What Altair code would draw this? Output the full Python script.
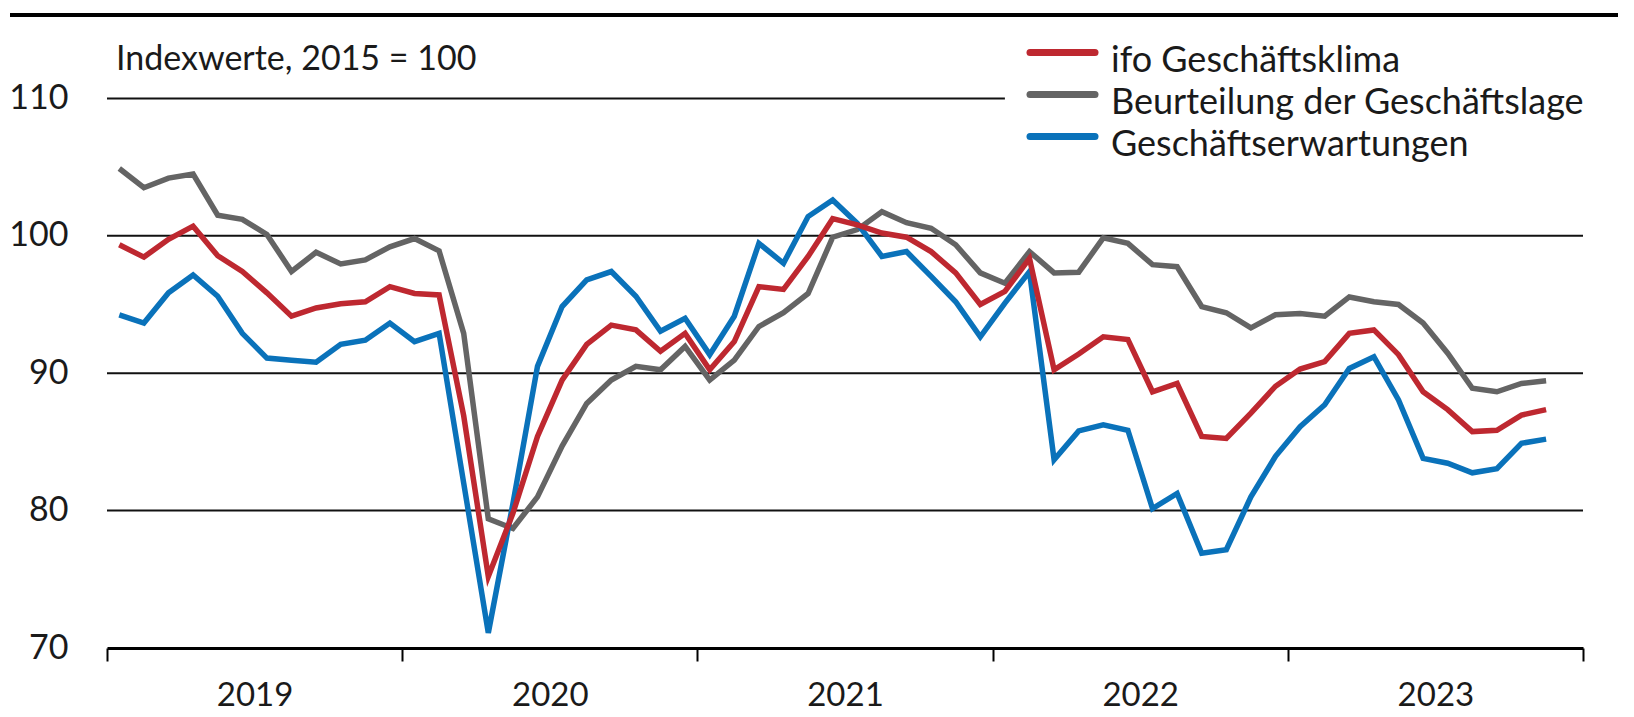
import altair as alt
import pandas as pd

# ---------------- data ----------------
months = [f"{y}-{m:02d}" for y in range(2019, 2024) for m in range(1, 13)][:59]

klima = [99.35, 98.45, 99.75, 100.7, 98.55, 97.4, 95.85, 94.15, 94.75, 95.05,
         95.2, 96.3, 95.8, 95.7, 86.9, 75.2, 79.8, 85.4, 89.5, 92.1,
         93.5, 93.15, 91.6, 92.9, 90.25, 92.3, 96.3, 96.1, 98.5, 101.25,
         100.8, 100.2, 99.9, 98.85, 97.3, 95.0, 95.95, 98.35, 90.25, 91.4,
         92.65, 92.45, 88.65, 89.25, 85.4, 85.25, 87.1, 89.05, 90.3, 90.85,
         92.9, 93.15, 91.35, 88.65, 87.35, 85.75, 85.85, 86.95, 87.35]

lage = [104.9, 103.5, 104.2, 104.5, 101.5, 101.2, 100.1, 97.4, 98.8, 97.95,
        98.25, 99.2, 99.8, 98.9, 92.9, 79.4, 78.7, 81.0, 84.7, 87.8,
        89.5, 90.5, 90.25, 91.95, 89.5, 90.95, 93.4, 94.4, 95.8, 99.9,
        100.45, 101.75, 100.95, 100.55, 99.35, 97.3, 96.55, 98.85, 97.3, 97.35,
        99.85, 99.45, 97.9, 97.75, 94.85, 94.4, 93.3, 94.25, 94.35, 94.15,
        95.55, 95.2, 95.0, 93.65, 91.45, 88.9, 88.65, 89.25, 89.45]

erwartungen = [94.25, 93.65, 95.85, 97.15, 95.6, 92.9, 91.1, 90.95, 90.8, 92.1,
               92.4, 93.65, 92.3, 92.9, 82.0, 71.1, 80.5, 90.5, 94.85, 96.8,
               97.4, 95.6, 93.05, 94.0, 91.35, 94.15, 99.45, 98.0, 101.4, 102.6,
               100.9, 98.5, 98.85, 97.05, 95.2, 92.65, 95.1, 97.4, 83.7, 85.8,
               86.25, 85.85, 80.15, 81.25, 76.9, 77.15, 81.0, 83.95, 86.1, 87.7,
               90.35, 91.2, 88.05, 83.8, 83.45, 82.75, 83.05, 84.9, 85.2]

series_names = ["ifo Geschäftsklima", "Beurteilung der Geschäftslage", "Geschäftserwartungen"]
series_values = [klima, lage, erwartungen]
series_colors = ["#BE2830", "#646464", "#0A72BA"]

y_ticks = [70, 80, 90, 100, 110]
year_ticks = [2019, 2020, 2021, 2022, 2023, 2024]
subtitle = "Indexwerte, 2015 = 100"

# ---------------- layout ----------------
W, H = 1476, 640
PX_PER_UNIT = 13.74
Y_MAX = 70 + H / PX_PER_UNIT
N_MONTHS = 12 * (len(year_ticks) - 1)
FONT = "Lato"
TXT = "#1a1a1a"

xs = alt.Scale(domain=[0, N_MONTHS], nice=False, zero=False)
ys = alt.Scale(domain=[70, Y_MAX], nice=False, zero=False)

x_axis = alt.Axis(
    values=[12 * (y - year_ticks[0]) for y in year_ticks],
    labelExpr=f"datum.value < {N_MONTHS} ? '' + ({year_ticks[0]} + datum.value / 12) : ''",
    title=None, grid=False, domain=True, domainColor="#000000", domainWidth=3,
    ticks=True, tickColor="#000000", tickWidth=2, tickSize=13,
    labelOffset=W / 10, labelFlush=False, labelBound=False, labelOverlap=False,
    labelBaseline="alphabetic", labelPadding=44, labelFont=FONT, labelFontSize=33,
    labelColor=TXT,
)
y_axis = alt.Axis(
    values=y_ticks, format="d", title=None, grid=False, domain=False,
    ticks=False, tickSize=0, labelPadding=39, labelFont=FONT, labelFontSize=34,
    labelColor=TXT, labelBaseline="middle", labelAlign="right",
)

X = alt.X("t:Q", scale=xs, axis=x_axis)
Y = alt.Y("v:Q", scale=ys, axis=y_axis)

# gridlines (110 line is shortened because of the legend)
grid_df = pd.DataFrame({
    "v": y_ticks[1:],
    "t": [0] * (len(y_ticks) - 1),
    "t2": [N_MONTHS if g < 110 else 36.5 for g in y_ticks[1:]],
})
grid = alt.Chart(grid_df).mark_rule(color="#111111", strokeWidth=2).encode(
    x=X, x2="t2:Q", y=Y
)

layers = [grid]

# lines: draw grey, blue, red (red on top)
for idx in [1, 2, 0]:
    df = pd.DataFrame({
        "month": months,
        "t": [i + 0.5 for i in range(len(months))],
        "v": series_values[idx],
        "series": series_names[idx],
    })
    layers.append(
        alt.Chart(df).mark_line(strokeWidth=5.5, color=series_colors[idx]).encode(
            x=X, y=Y, tooltip=["month:N", "series:N", "v:Q"]
        )
    )

# top black rule
top_rule = alt.Chart(pd.DataFrame({"a": [0]})).mark_rule(
    color="#000000", strokeWidth=4
).encode(x=alt.value(-97), x2=alt.value(W + 35), y=alt.value(7))
layers.append(top_rule)

# subtitle
sub = alt.Chart(pd.DataFrame({"label": [subtitle]})).mark_text(
    align="left", baseline="alphabetic", font=FONT, fontSize=34, color=TXT
).encode(x=alt.value(9), y=alt.value(62), text="label:N")
layers.append(sub)

# legend (custom)
for k, name in enumerate(series_names):
    ld = pd.DataFrame({"label": [name]})
    sy = 44.5 + 42 * k
    layers.append(
        alt.Chart(ld).mark_rule(color=series_colors[k], strokeWidth=7, strokeCap="round").encode(
            x=alt.value(923), x2=alt.value(988), y=alt.value(sy)
        )
    )
    layers.append(
        alt.Chart(ld).mark_text(
            align="left", baseline="alphabetic", font=FONT, fontSize=36, color=TXT
        ).encode(x=alt.value(1004), y=alt.value(sy + 19), text="label:N")
    )

chart = alt.layer(*layers).properties(
    width=W, height=H,
    padding={"left": 99, "top": 0, "right": 35, "bottom": 64},
    autosize=alt.AutoSizeParams(type="none"),
).configure_view(stroke=None)

chart.save("out.html", embed_options={"renderer": "svg", "actions": False})
